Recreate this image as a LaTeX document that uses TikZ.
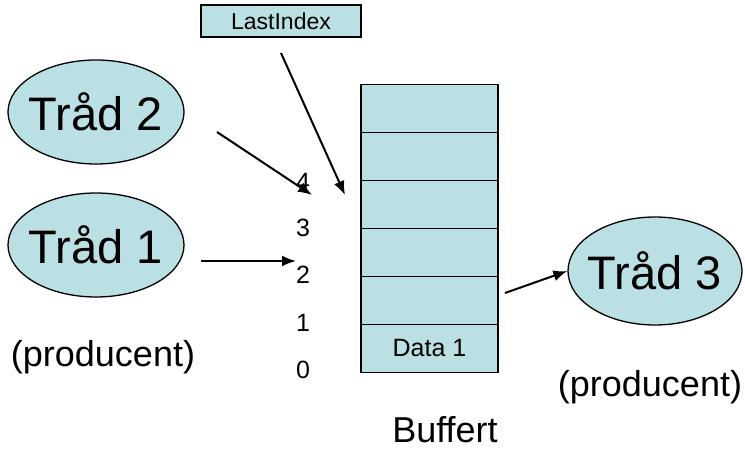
\documentclass[tikz,border=0pt]{standalone}
\usepackage{fontspec}
\setmainfont{Liberation Sans}
\usetikzlibrary{shapes,arrows.meta,positioning}

\definecolor{bufblue}{RGB}{187,224,227}

\tikzset{
  thread/.style={ellipse, draw, line width=1.3pt, fill=bufblue, minimum width=176pt, minimum height=104pt, inner xsep=-15pt, inner ysep=0pt, font=\fontsize{47}{50}\selectfont},
  cell/.style={rectangle, draw, line width=1.8pt, fill=bufblue, minimum width=137pt, minimum height=48pt, inner sep=0pt, font=\fontsize{25}{28}\selectfont},
  idx/.style={font=\fontsize{25}{28}\selectfont},
  note/.style={font=\fontsize{36}{40}\selectfont},
  link/.style={->, line width=2pt}
}

\begin{document}
\begin{tikzpicture}[>={Latex[length=14pt,width=11pt]}, x=1pt, y=-1pt]
  \useasboundingbox (0,0) rectangle (745,465);

  % threads
  \node [thread] (t2) at (96,112) {Tråd 2};
  \node [thread] (t1) at (96,245) {Tråd 1};
  \node [thread, minimum width=174pt, minimum height=108pt] (t3) at (655,271) {Tråd 3};

  \node [note] (p1) at (103,357) {(producent)};
  \node [note] (p3) at (650,387) {(producent)};

  % buffer
  \node [cell] (c5) at (429.5,108.5) {};
  \node [cell] (c4) at (429.5,156.5) {};
  \node [cell] (c3) at (429.5,204.5) {};
  \node [cell] (c2) at (429.5,252.5) {};
  \node [cell] (c1) at (429.5,300.5) {};
  \node [cell] (c0) at (429.5,348.5) {Data 1};

  \node [note] (buf) at (445,430) {Buffert};

  % index numbers
  \node [idx] (n4) at (303,182) {4};
  \node [idx] (n3) at (303,228) {3};
  \node [idx] (n2) at (303,275) {2};
  \node [idx] (n1) at (303,323) {1};
  \node [idx] (n0) at (303,370) {0};

  \node [rectangle, draw, line width=1.5pt, fill=bufblue, minimum width=160pt, minimum height=32pt, inner sep=0pt, font=\fontsize{23}{26}\selectfont] (last) at (281,21) {LastIndex};

  % arrows
  \coordinate (lastfrom) at (281,53);
  \coordinate (lastto) at (345,195);
  \coordinate (t2from) at (217,132);
  \coordinate (t2to) at (312,195);
  \coordinate (t1from) at (201,261);
  \coordinate (t1to) at (296,261);
  \coordinate (bufout) at (505,293);

  \draw [link] (lastfrom) -- (lastto);
  \draw [link] (t2from) -- (t2to);
  \draw [link] (t1from) -- (t1to);
  \draw [link] (bufout) -- (t3.west);
\end{tikzpicture}
\end{document}
